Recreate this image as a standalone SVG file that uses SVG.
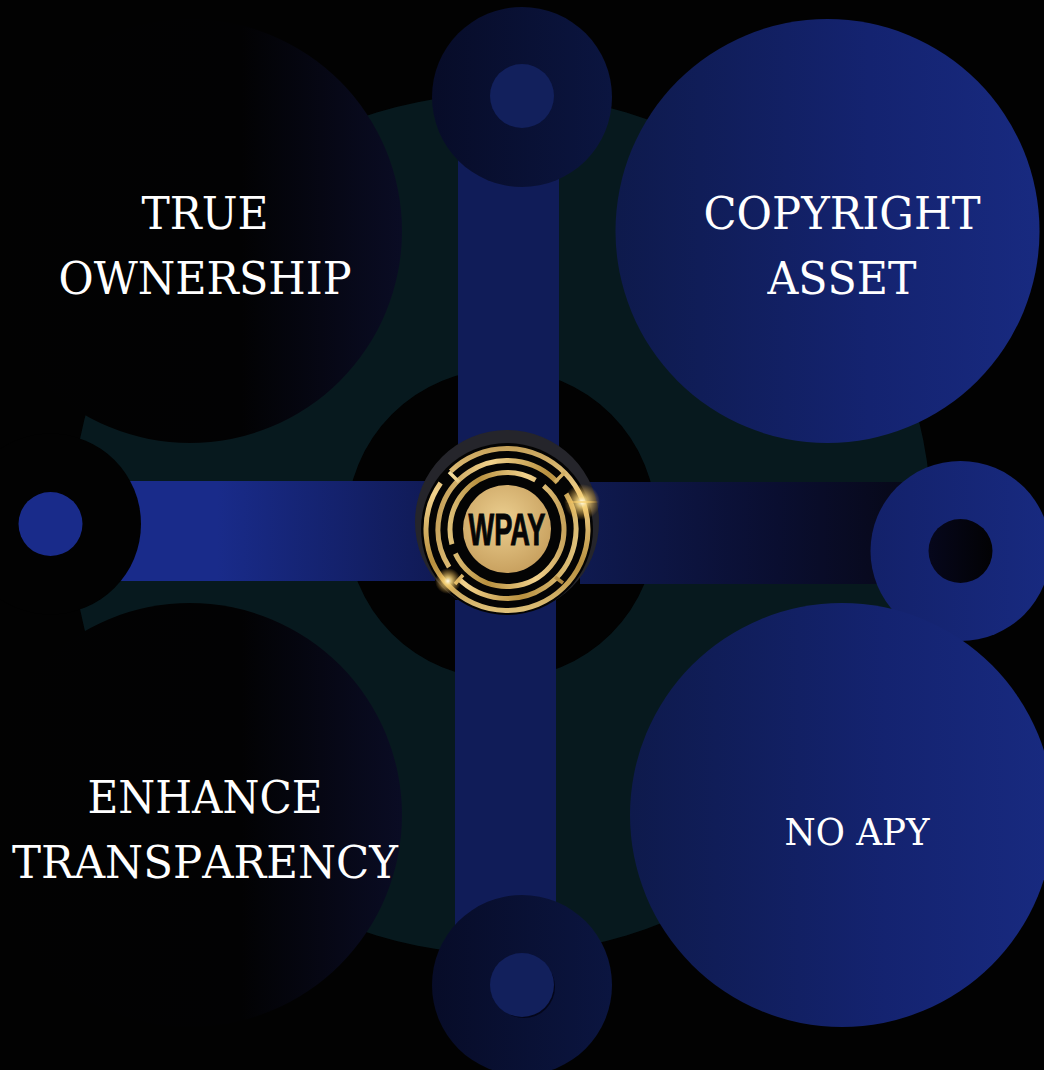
<svg xmlns="http://www.w3.org/2000/svg" width="1044" height="1070" viewBox="0 0 1044 1070">
<style>
.lb{font-family:"DejaVu Serif",serif;font-size:45.500px;fill:#fff;text-anchor:middle;font-kerning:none}
.gr{fill:none;stroke:url(#gold);stroke-width:5}
</style>
<defs>
<linearGradient id="gDark"><stop offset="0" stop-color="#020202"/><stop offset=".62" stop-color="#020203"/><stop offset="1" stop-color="#0a0c24"/></linearGradient>
<linearGradient id="gBlue"><stop offset="0" stop-color="#0e1a4c"/><stop offset=".6" stop-color="#142370"/><stop offset="1" stop-color="#182a80"/></linearGradient>
<linearGradient id="gSmall"><stop offset="0" stop-color="#070c28"/><stop offset="1" stop-color="#0b1540"/></linearGradient>
<linearGradient id="gRing"><stop offset="0" stop-color="#13216a"/><stop offset="1" stop-color="#182a80"/></linearGradient>
<linearGradient id="gHole"><stop offset="0" stop-color="#06071c"/><stop offset="1" stop-color="#020204"/></linearGradient>
<linearGradient id="gL"><stop offset="0" stop-color="#192b8a"/><stop offset=".35" stop-color="#192b8a"/><stop offset="1" stop-color="#101a55"/></linearGradient>
<linearGradient id="gR"><stop offset="0" stop-color="#0f1a50"/><stop offset=".6" stop-color="#0a0e30"/><stop offset="1" stop-color="#070818"/></linearGradient>
<linearGradient id="gold" x1="0" y1="0" x2="1" y2="1"><stop offset="0" stop-color="#f8e0a0"/><stop offset=".35" stop-color="#b8903f"/><stop offset=".65" stop-color="#f2d28c"/><stop offset="1" stop-color="#a9823a"/></linearGradient>
<radialGradient id="gDisc" cx=".45" cy=".4" r=".7"><stop offset="0" stop-color="#eccf90"/><stop offset="1" stop-color="#c39a58"/></radialGradient>
<radialGradient id="gSpark"><stop offset="0" stop-color="#fffbe8"/><stop offset=".3" stop-color="#f8d67c" stop-opacity=".85"/><stop offset="1" stop-color="#f0b040" stop-opacity="0"/></radialGradient>
</defs>
<rect width="1044" height="1070" fill="#020202"/>
<g id="hub-ring"><path fill="#07191e" fill-rule="evenodd" d="M71.500 524a430 430 0 1 0 860 0a430 430 0 1 0 -860 0zM346.500 524a155 155 0 1 0 310 0a155 155 0 1 0 -310 0z"/></g>
<g id="connectors">
<rect x="458" y="150" width="101" height="300" fill="#101c58"/>
<rect x="455" y="600" width="101" height="340" fill="#101c58"/>
<rect x="100" y="481" width="335" height="100" fill="url(#gL)"/>
<rect x="580" y="482" width="330" height="102" fill="url(#gR)"/>
</g>
<g id="node-left"><circle cx="50.500" cy="524" r="90.500" fill="#020202"/><circle cx="50.500" cy="524" r="32" fill="#192b8a"/></g>
<g id="node-true-ownership"><circle cx="190" cy="231" r="212" fill="url(#gDark)"/><text class="lb" x="205" y="229" textLength="127" lengthAdjust="spacingAndGlyphs">TRUE</text><text class="lb" x="205" y="294" textLength="293" lengthAdjust="spacingAndGlyphs">OWNERSHIP</text></g>
<g id="node-enhance-transparency"><circle cx="190" cy="815" r="212" fill="url(#gDark)"/><text class="lb" x="205" y="813" textLength="235" lengthAdjust="spacingAndGlyphs">ENHANCE</text><text class="lb" x="205" y="878" textLength="386" lengthAdjust="spacingAndGlyphs">TRANSPARENCY</text></g>
<g id="node-right"><circle cx="960.500" cy="551" r="90" fill="url(#gRing)"/><circle cx="960.500" cy="551" r="32" fill="url(#gHole)"/></g>
<g id="node-copyright-asset"><circle cx="827.500" cy="231" r="212" fill="url(#gBlue)"/><text class="lb" x="842" y="229" textLength="277" lengthAdjust="spacingAndGlyphs">COPYRIGHT</text><text class="lb" x="842" y="294" textLength="149" lengthAdjust="spacingAndGlyphs">ASSET</text></g>
<g id="node-no-apy"><circle cx="842" cy="815" r="212" fill="url(#gBlue)"/><text class="lb" x="857" y="845" textLength="145" lengthAdjust="spacingAndGlyphs" style="font-size:38px">NO APY</text></g>
<g id="node-top"><circle cx="522" cy="97" r="90" fill="url(#gSmall)"/><circle cx="522" cy="96" r="32" fill="#12205c"/></g>
<g id="node-bottom"><circle cx="522" cy="985" r="90" fill="url(#gSmall)"/><circle cx="524" cy="987" r="31" fill="#04061a"/><circle cx="522" cy="985" r="32" fill="#12205c"/></g>
<g id="logo">
<circle cx="507" cy="522" r="92" fill="#25252b"/>
<circle cx="507" cy="529" r="86" fill="#040404"/>
<circle class="gr" cx="507" cy="529.500" r="81" pathLength="360" stroke-dasharray="349 11" transform="rotate(226 507 529.500)"/>
<circle class="gr" cx="507" cy="529.500" r="69" pathLength="360" stroke-dasharray="170 12 166 12" transform="rotate(147 507 529.500)"/>
<circle class="gr" cx="507" cy="529.500" r="57" pathLength="360" stroke-dasharray="205 10 135 10" transform="rotate(-50 507 529.500)"/>
<path class="gr" d="M449 472l10 10M565 472l-10 10M463 575l-8 9M555 577l8 6" style="stroke-width:3.500"/>
<circle cx="507" cy="529" r="44" fill="url(#gDisc)"/>
<text x="507" y="545" font-family="'Liberation Sans',sans-serif" font-weight="700" font-size="44" fill="#060606" stroke="#060606" stroke-width="1" text-anchor="middle" textLength="77" lengthAdjust="spacingAndGlyphs">WPAY</text>
<circle cx="582" cy="502" r="18" fill="url(#gSpark)"/>
<ellipse cx="582" cy="502" rx="18" ry="1.500" fill="url(#gSpark)"/>
<circle cx="448" cy="581" r="13" fill="url(#gSpark)"/>
</g>
</svg>
